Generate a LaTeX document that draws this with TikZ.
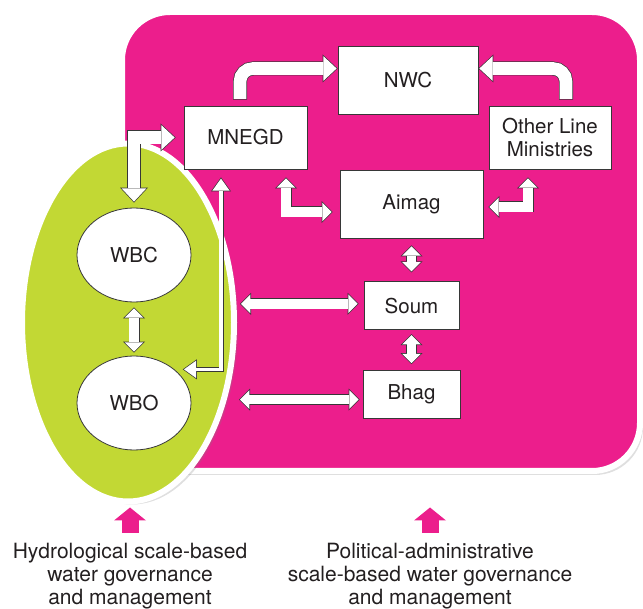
\documentclass[tikz,border=0pt]{standalone}
\usepackage{fontspec}
\setmainfont{TeX Gyre Heros}
\usetikzlibrary{shapes.geometric, arrows.meta, positioning, calc, shadows}
\definecolor{panelpink}{RGB}{236,30,140}
\definecolor{basingreen}{RGB}{194,216,52}
\definecolor{inkgray}{RGB}{35,31,32}
\definecolor{edgegray}{RGB}{55,55,55}
\newcommand{\boxfnt}{\fontsize{20.5}{23}\selectfont}
\newcommand{\capfnt}{\fontsize{21}{23}\selectfont}

\tikzset{
  bigedge/.tip={Triangle[length=15pt,width=28pt,line width=0pt]},
  bigcore/.tip={Triangle[length=13.3pt,width=24.8pt,line width=0pt]},
  midedge/.tip={Triangle[length=11pt,width=22pt,line width=0pt]},
  midcore/.tip={Triangle[length=9.3pt,width=18.6pt,line width=0pt]},
  thinedge/.tip={Triangle[length=14pt,width=20pt,line width=0pt]},
  thincore/.tip={Triangle[length=12.1pt,width=17.3pt,line width=0pt]},
  pinktip/.tip={Triangle[length=13pt,width=32pt,line width=0pt]}
}

\begin{document}
\begin{tikzpicture}[
    x=1pt, y=-1pt,
    panel/.style={rectangle, rounded corners=48pt, fill=panelpink, draw=white, line width=6pt,
      drop shadow={opacity=0.25, shadow xshift=3pt, shadow yshift=-4pt}},
    basin/.style={ellipse, fill=basingreen, draw=white, line width=6pt, inner sep=0pt,
      drop shadow={opacity=0.25, shadow xshift=4pt, shadow yshift=-3pt}},
    unit/.style={ellipse, fill=white, draw=edgegray, line width=0.8pt, inner sep=0pt,
      minimum width=114pt, minimum height=94pt, font=\boxfnt, text=inkgray},
    box/.style={rectangle, fill=white, draw=edgegray, line width=0.8pt, inner sep=0pt,
      align=center, font=\boxfnt, text=inkgray},
    caption/.style={anchor=north, inner sep=0pt, align=center, font=\capfnt, text=inkgray},
    bigarrow/.style={draw=white, line width=12.6pt, arrows={-bigcore}, shorten >=1pt, shorten <=0.7pt,
      preaction={draw=edgegray, line width=14pt, arrows={-bigedge}, shorten >=0pt, shorten <=0pt}},
    bigboth/.style={draw=white, line width=12.6pt, arrows={bigcore-bigcore}, shorten >=1pt, shorten <=1pt,
      preaction={draw=edgegray, line width=14pt, arrows={bigedge-bigedge}, shorten >=0pt, shorten <=0pt}},
    midboth/.style={draw=white, line width=9.6pt, arrows={midcore-midcore}, shorten >=1pt, shorten <=1pt,
      preaction={draw=edgegray, line width=11pt, arrows={midedge-midedge}, shorten >=0pt, shorten <=0pt}},
    thinboth/.style={draw=white, line width=3.6pt, arrows={thincore-thincore}, shorten >=1.2pt, shorten <=1.2pt,
      preaction={draw=edgegray, line width=5pt, arrows={thinedge-thinedge}, shorten >=0pt, shorten <=0pt}},
    pinkarrow/.style={draw=panelpink, line width=17pt, arrows={-pinktip}}
  ]
  \useasboundingbox (0,0) rectangle (643,609);

  % the two frames
  \node[panel, minimum width=518pt, minimum height=459pt] (panel) at (381,241.5) {};
  \node[basin, minimum width=212pt, minimum height=358pt] (basin) at (128,322.5) {};

  % basin bodies
  \node[unit] (wbc) at (134,255) {WBC};
  \node[unit] (wbo) at (134,403) {WBO};

  % administrative bodies
  \node[box, minimum width=123pt, minimum height=63pt] (mnegd) at (245.5,137.5) {MNEGD};
  \node[box, minimum width=140pt, minimum height=68pt] (nwc) at (408,80) {NWC};
  \node[box, minimum width=122pt, minimum height=63pt] (olm) at (550,137.5) {Other Line\\Ministries};
  \node[box, minimum width=143pt, minimum height=68pt] (aimag) at (411.5,204) {Aimag};
  \node[box, minimum width=95pt, minimum height=48pt, below=43pt of aimag] (soum) {Soum};
  \node[box, minimum width=97pt, minimum height=48pt, below=40pt of soum] (bhag) {Bhag};

  \node[caption] (hydrocap) at (130,543) {Hydrological scale-based\\water governance\\and management};
  \node[caption] (policap) at (430,543) {Political-administrative\\scale-based water governance\\and management};

  % up to the NWC
  \draw[bigarrow, rounded corners=13pt] ([xshift=-5.5pt,yshift=6pt]mnegd.north) |- ([yshift=11.5pt]nwc.west);
  \draw[bigarrow, rounded corners=13pt] ([xshift=16pt,yshift=6pt]olm.north) |- ([yshift=11.5pt]nwc.east);

  % basin links
  \draw[bigboth] ([yshift=5pt]wbc.north) |- ([xshift=-8pt]mnegd.west);
  \draw[midboth] ([yshift=-5pt]wbc.south) -- ([yshift=3pt]wbo.north);
  \draw[thinboth] ([xshift=-24.5pt,yshift=-8pt]mnegd.south) |- ([xshift=5pt,yshift=3pt]wbo.35);

  % administrative links
  \draw[midboth] ([xshift=40.5pt,yshift=-8pt]mnegd.south) |- ([xshift=-7pt,yshift=-8pt]aimag.west);
  \draw[midboth] ([xshift=-22pt,yshift=-8pt]olm.south) |- ([xshift=5pt,yshift=-3pt]aimag.east);
  \draw[midboth] ([yshift=-7pt]aimag.south) -- ([yshift=9pt]soum.north);
  \draw[midboth] ([yshift=-4pt]soum.south) -- ([yshift=6pt]bhag.north);
  \draw[midboth] ($(basin.east |- soum.west)+(3,-2)$) -- ([xshift=-5pt,yshift=2pt]soum.west);
  \draw[midboth] ($(basin.east |- bhag.west)+(2,5)$) -- ([xshift=-3pt,yshift=-5pt]bhag.west);

  % captions
  \draw[pinkarrow] ([yshift=10pt]hydrocap.north) -- ($(hydrocap.north |- basin.south)+(0,3)$);
  \draw[pinkarrow] ([yshift=10pt]policap.north) -- ($(policap.north |- basin.south)+(0,3)$);
\end{tikzpicture}
\end{document}
